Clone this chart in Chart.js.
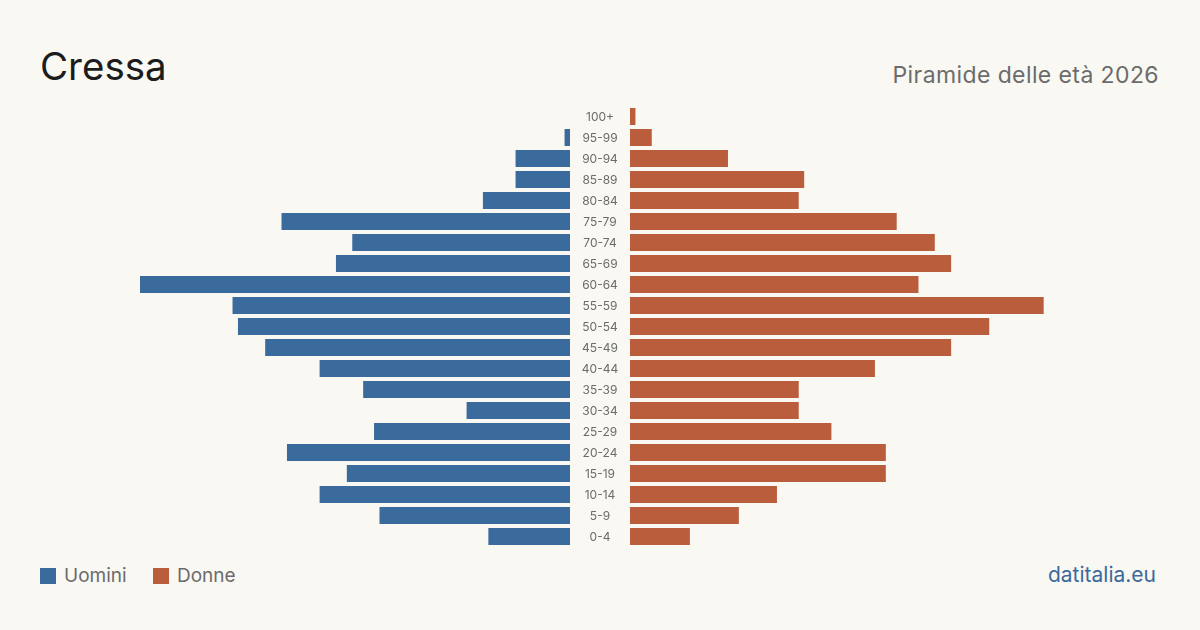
<!DOCTYPE html>
<html lang="it">
<head>
<meta charset="utf-8">
<title>Cressa - Piramide delle età 2026</title>
<script src="https://cdn.jsdelivr.net/npm/chart.js@4/dist/chart.umd.min.js"></script>
<style>
  html, body { margin: 0; padding: 0; }
  body {
    width: 1200px; height: 630px; position: relative; overflow: hidden;
    background: #f9f8f3; font-family: Inter, "Noto Sans", sans-serif;
  }
  #titolo { position: absolute; left: 40px; top: 43px; font-size: 38.5px; color: #1c1c1c; line-height: 46px; }
  #sottotitolo { position: absolute; right: 41px; top: 61px; font-size: 23px; color: #6b6b6b; letter-spacing: 0.4px; line-height: 28px; }
  #left-wrap { position: absolute; left: 140px; top: 106px; width: 430px; height: 441px; }
  #right-wrap { position: absolute; left: 570px; top: 106px; width: 490px; height: 441px; }
  .legenda { position: absolute; top: 564px; font-size: 19px; color: #6b6b6b; line-height: 24px; }
  .legenda span { display: inline-block; width: 16px; height: 16px; vertical-align: -2px; margin-right: 8px; }
  #fonte { position: absolute; right: 44px; top: 562px; font-size: 21px; color: #3b6a9c; line-height: 26px; }
</style>
</head>
<body>
<div id="titolo">Cressa</div>
<div id="sottotitolo">Piramide delle età 2026</div>
<div id="left-wrap"><canvas id="uomini"></canvas></div>
<div id="right-wrap"><canvas id="donne"></canvas></div>
<div class="legenda" style="left:40px"><span style="background:#3b6a9c"></span>Uomini</div>
<div class="legenda" style="left:153px"><span style="background:#b95d3c"></span>Donne</div>
<div id="fonte">datitalia.eu</div>

<script>
// fasce d'eta dall'alto verso il basso
const fasce = ['100+', '95-99', '90-94', '85-89', '80-84', '75-79', '70-74', '65-69', '60-64', '55-59',
  '50-54', '45-49', '40-44', '35-39', '30-34', '25-29', '20-24', '15-19', '10-14', '5-9', '0-4'];
const uomini = [0, 1, 10, 10, 16, 53, 40, 43, 79, 62, 61, 56, 46, 38, 19, 36, 52, 41, 46, 35, 15];
const donne = [1, 4, 18, 32, 31, 49, 56, 59, 53, 76, 66, 59, 45, 31, 31, 37, 47, 47, 27, 20, 11];
const maxValore = 79;

const BLU = '#3b6a9c';
const ROSSO = '#b95d3c';

function opzioni(reverse, paddingLeft) {
  return {
    indexAxis: 'y',
    responsive: true,
    maintainAspectRatio: false,
    animation: false,
    layout: { padding: { left: paddingLeft, right: 0, top: 0, bottom: 0 } },
    plugins: { legend: { display: false }, tooltip: { enabled: false } },
    scales: {
      x: { display: false, min: 0, max: maxValore, reverse: reverse },
      y: { display: false }
    }
  };
}

// etichette delle fasce in mezzo, prese dalla scala y
const etichette = {
  id: 'etichette',
  afterDraw(chart) {
    const ctx = chart.ctx;
    const y = chart.scales.y;
    ctx.save();
    ctx.font = '12px Inter, "Noto Sans", sans-serif';
    ctx.fillStyle = '#6b6b6b';
    ctx.textAlign = 'center';
    ctx.textBaseline = 'middle';
    fasce.forEach((f, i) => {
      ctx.fillText(f, chart.chartArea.left - 30, y.getPixelForValue(i) + 0.5);
    });
    ctx.restore();
  }
};

new Chart(document.getElementById('uomini'), {
  type: 'bar',
  data: {
    labels: fasce,
    datasets: [{ label: 'Uomini', data: uomini, backgroundColor: BLU, barPercentage: 0.81, categoryPercentage: 1 }]
  },
  options: opzioni(true, 0)
});

new Chart(document.getElementById('donne'), {
  type: 'bar',
  data: {
    labels: fasce,
    datasets: [{ label: 'Donne', data: donne, backgroundColor: ROSSO, barPercentage: 0.81, categoryPercentage: 1 }]
  },
  options: opzioni(false, 60),
  plugins: [etichette]
});
</script>
</body>
</html>
